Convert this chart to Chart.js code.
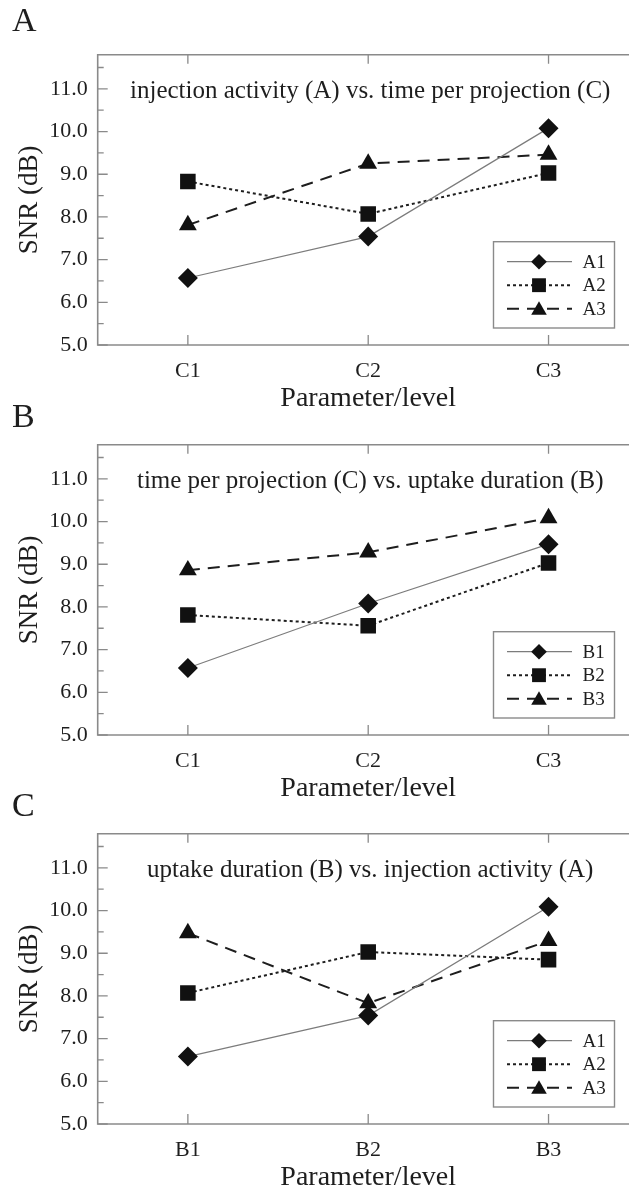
<!DOCTYPE html>
<html><head><meta charset="utf-8">
<script src="https://cdn.jsdelivr.net/npm/chart.js@4.4.1/dist/chart.umd.min.js"></script>
<style>
html,body{margin:0;padding:0;overflow:hidden;background:#fff;}
#wrap{position:relative;width:629px;height:1189px;overflow:hidden;background:#fff;}
canvas{position:absolute;left:0;}
</style></head><body>
<div id="wrap">
<canvas id="cA" width="650" height="425" style="top:0px"></canvas>
<canvas id="cB" width="650" height="425" style="top:390px"></canvas>
<canvas id="cC" width="650" height="425" style="top:779px"></canvas>
</div>
<script>
// ---------------- data ----------------
const panelLetters = ['A', 'B', 'C'];
const panelTitles = [
  'injection activity (A) vs. time per projection (C)',
  'time per projection (C) vs. uptake duration (B)',
  'uptake duration (B) vs. injection activity (A)'
];
const categoriesA = ['C1', 'C2', 'C3'];
const categoriesB = ['C1', 'C2', 'C3'];
const categoriesC = ['B1', 'B2', 'B3'];
const seriesNamesA = ['A1', 'A2', 'A3'];
const seriesNamesB = ['B1', 'B2', 'B3'];
const seriesNamesC = ['A1', 'A2', 'A3'];

const panelA_1 = [6.57, 7.54, 10.08];
const panelA_2 = [8.83, 8.07, 9.03];
const panelA_3 = [7.81, 9.25, 9.46];

const panelB_1 = [6.57, 8.08, 9.47];
const panelB_2 = [7.81, 7.56, 9.03];
const panelB_3 = [8.86, 9.28, 10.08];

const panelC_1 = [6.58, 7.54, 10.09];
const panelC_2 = [8.07, 9.03, 8.85];
const panelC_3 = [9.47, 7.83, 9.29];

const yTicks = [5, 6, 7, 8, 9, 10, 11];
const yMinorTicks = [5.5, 6.5, 7.5, 8.5, 9.5, 10.5, 11.5];
const yMin = 5, yMax = 11.8;
const yTitle = 'SNR (dB)';
const xTitle = 'Parameter/level';

// ---------------- styles ----------------
const SERIF = '"Liberation Serif", "DejaVu Serif", "Times New Roman", serif';
const TEXT = '#1e1e1e';
const AXIS = '#8a8a8a';
const seriesStyles = [
  { pointStyle: 'rectRot', radius: 10, legendRadius: 7.8, line: '#7c7c7c', width: 1.2, dash: [] },
  { pointStyle: 'rect', radius: 11, legendRadius: 9.8, line: '#1e1e1e', width: 2, dash: [3, 3] },
  { pointStyle: 'triangle', radius: 10.3, legendRadius: 9, line: '#1e1e1e', width: 2, dash: [12, 8] }
];

function drawMarker(ctx, style, r, x, y) {
  const opts = { pointStyle: style, radius: r, rotation: 0, borderWidth: 0 };
  if (Chart.helpers && Chart.helpers.drawPoint) {
    Chart.helpers.drawPoint(ctx, opts, x, y);
  }
}

const panelPlugin = {
  id: 'panelDeco',
  beforeDatasetsDraw(chart, args, o) {
    const ctx = chart.ctx;
    const { left, right, top, bottom } = chart.chartArea;
    const xs = chart.scales.x, ys = chart.scales.y;
    ctx.save();
    ctx.strokeStyle = AXIS;
    ctx.lineWidth = 1.6;
    ctx.setLineDash([]);
    ctx.beginPath();
    ctx.rect(left, top, right - left, bottom - top);
    ctx.stroke();
    ctx.lineWidth = 1.3;
    ctx.beginPath();
    yTicks.forEach(v => {
      const p = ys.getPixelForValue(v);
      ctx.moveTo(left, p); ctx.lineTo(left + 10, p);
    });
    yMinorTicks.forEach(v => {
      const p = ys.getPixelForValue(v);
      ctx.moveTo(left, p); ctx.lineTo(left + 6, p);
    });
    chart.data.labels.forEach((l, i) => {
      const p = xs.getPixelForTick(i);
      ctx.moveTo(p, bottom); ctx.lineTo(p, bottom - 10);
      ctx.moveTo(p, top); ctx.lineTo(p, top + 9);
    });
    ctx.stroke();
    ctx.restore();
  },
  afterDraw(chart, args, o) {
    const ctx = chart.ctx;
    const { left, right, top, bottom } = chart.chartArea;
    const ys = chart.scales.y;
    ctx.save();
    ctx.fillStyle = TEXT;
    // panel letter
    ctx.font = '34px ' + SERIF;
    ctx.textAlign = 'left';
    ctx.textBaseline = 'alphabetic';
    ctx.fillText(o.letter, 12, o.letterBaseline);
    // in-plot title
    ctx.font = '25px ' + SERIF;
    ctx.textAlign = 'center';
    ctx.fillText(o.title, (left + right) / 2 + 2, ys.getPixelForValue(11) + 9.5);
    // legend box
    const bx1 = right - 24.2, by2 = bottom - 17;
    const bw = 121, bh = 86.3;
    const bx = bx1 - bw, by = by2 - bh;
    ctx.strokeStyle = AXIS;
    ctx.lineWidth = 1.4;
    ctx.setLineDash([]);
    ctx.strokeRect(bx, by, bw, bh);
    const rows = [20, 43.5, 67];
    chart.data.datasets.forEach((ds, i) => {
      const st = seriesStyles[i];
      const y = by + rows[i];
      ctx.strokeStyle = st.line;
      ctx.lineWidth = st.width;
      ctx.setLineDash(st.dash);
      ctx.beginPath();
      ctx.moveTo(bx + 13.5, y); ctx.lineTo(bx + 78.5, y);
      ctx.stroke();
      ctx.setLineDash([]);
      ctx.fillStyle = '#111';
      const my = st.pointStyle === 'triangle' ? y + 1.5 : y;
      drawMarker(ctx, st.pointStyle, st.legendRadius, bx + 45.5, my);
      ctx.fillStyle = TEXT;
      ctx.font = '19px ' + SERIF;
      ctx.textAlign = 'left';
      ctx.textBaseline = 'middle';
      ctx.fillText(ds.label, bx + 89, y + 1);
    });
    ctx.restore();
  }
};

function makePanel(id, idx, labels, names, values, letterBaseline) {
  const datasets = values.map((vals, i) => {
    const st = seriesStyles[i];
    return {
      label: names[i],
      data: vals,
      borderColor: st.line,
      borderWidth: st.width,
      borderDash: st.dash,
      pointStyle: st.pointStyle,
      pointRadius: st.radius,
      pointBackgroundColor: '#111',
      pointBorderColor: '#111',
      pointBorderWidth: 0,
      tension: 0,
      fill: false
    };
  });
  return new Chart(document.getElementById(id), {
    type: 'line',
    data: { labels: labels, datasets: datasets },
    plugins: [panelPlugin],
    options: {
      responsive: false,
      animation: false,
      events: [],
      layout: { autoPadding: false, padding: { top: 54.7, left: 0, right: 11.3, bottom: 0 } },
      plugins: {
        legend: { display: false },
        title: { display: false },
        tooltip: { enabled: false },
        panelDeco: { letter: panelLetters[idx], title: panelTitles[idx], letterBaseline: letterBaseline }
      },
      scales: {
        x: {
          type: 'category',
          offset: true,
          grid: { display: false, drawTicks: false },
          border: { display: false },
          ticks: { color: TEXT, font: { family: SERIF, size: 22 }, padding: 13, maxRotation: 0 },
          title: { display: true, text: xTitle, color: TEXT, font: { family: SERIF, size: 28 }, padding: { top: 0, bottom: 10 } },
          afterFit: s => { s.height = 80; }
        },
        y: {
          type: 'linear',
          min: yMin,
          max: yMax,
          afterBuildTicks: s => { s.ticks = yTicks.map(v => ({ value: v })); },
          grid: { display: false, drawTicks: false },
          border: { display: false },
          ticks: { color: TEXT, font: { family: SERIF, size: 22 }, padding: 10, callback: v => Number(v).toFixed(1) },
          title: { display: true, text: yTitle, color: TEXT, font: { family: SERIF, size: 27 }, padding: { top: 14, bottom: 0 } },
          afterFit: s => { s.width = 97.7; }
        }
      }
    }
  });
}

makePanel('cA', 0, categoriesA, seriesNamesA, [panelA_1, panelA_2, panelA_3], 31);
makePanel('cB', 1, categoriesB, seriesNamesB, [panelB_1, panelB_2, panelB_3], 37);
makePanel('cC', 2, categoriesC, seriesNamesC, [panelC_1, panelC_2, panelC_3], 37);
</script>
</body></html>
